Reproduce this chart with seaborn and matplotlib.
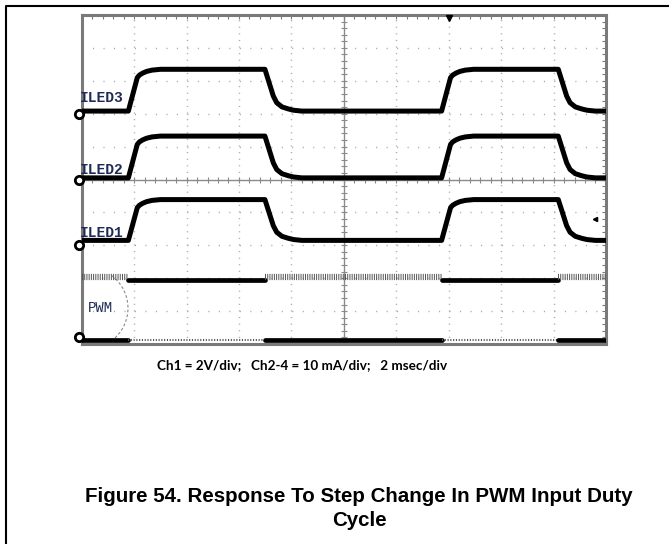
import matplotlib
matplotlib.use("Agg")
import matplotlib.pyplot as plt
from matplotlib.lines import Line2D
from matplotlib.patches import Arc
import numpy as np
import seaborn as sns

# Scope capture: x = time (ms, 2 ms/div), y = screen divisions (0..10)
time_ms = [0.0, 1.78, 2.12, 2.20, 2.33, 2.48, 2.68, 3.00, 6.99, 7.31, 7.44, 7.64, 7.89, 8.09, 8.40,
           13.73, 14.07, 14.15, 14.28, 14.43, 14.63, 14.95, 18.18, 18.50, 18.63, 18.83, 19.08, 19.28, 19.60, 20.0]
# normalized LED current shape (0 = off, 1 = on)
led_shape = [0, 0, 0.80, 0.86, 0.91, 0.95, 0.98, 1, 1, 0.36, 0.20, 0.10, 0.05, 0.02, 0,
             0, 0.80, 0.86, 0.91, 0.95, 0.98, 1, 1, 0.36, 0.20, 0.10, 0.05, 0.02, 0, 0]

led_names = ["ILED3", "ILED2", "ILED1"]
led_low = [7.08, 5.05, 3.15]
led_high = [8.35, 6.32, 4.39]
led_label_y = [7.48, 5.30, 3.36]
ground_marks = [7.0, 5.0, 3.0, 0.2]

# PWM input: high-frequency PWM, duty swaps between low and high
pwm_start = [0.0, 1.78, 6.99, 13.73, 18.18]
pwm_end = [1.78, 6.99, 13.73, 18.18, 20.0]
pwm_duty = ["low", "high", "low", "high", "low"]
pwm_top = 2.0
pwm_bottom = 0.12

trigger_time = 14.0
trigger_level = 3.79

caption = "Ch1 = 2V/div;   Ch2-4 = 10 mA/div;   2 msec/div"
title_l1 = "Figure 54. Response To Step Change In PWM Input Duty"
title_l2 = "Cycle"

sns.set_style("white")
plt.rcParams["font.family"] = ["DejaVu Sans"]
plt.rcParams["lines.scale_dashes"] = False

fig = plt.figure(figsize=(6.69, 5.44), dpi=100)
ax = fig.add_axes([0.1221, 0.3676, 0.7837, 0.6048])
ax.set_xlim(0, 20)
ax.set_ylim(0, 10)

# dotted graticule
for gx in np.arange(2, 20, 2):
    if gx != 10:
        ax.axvline(gx, color="#a8a8a8", lw=1.0, ls=(0, (0.8, 3.95)), zorder=0)
for gy in np.arange(1, 10, 1):
    if gy != 5:
        ax.axhline(gy, color="#a8a8a8", lw=1.0, ls=(0, (0.8, 6.75)), zorder=0)
# centre crosshair with minor ticks
ax.axvline(10, color="#8a8a8a", lw=1.0, zorder=0)
ax.axhline(5, color="#8a8a8a", lw=1.0, zorder=0)
ax.plot(np.full(51, 10.0), np.linspace(0, 10, 51), ls="none", marker="_",
        ms=4, color="#8a8a8a", mew=0.8, zorder=0)
ax.plot(np.linspace(0, 20, 51), np.full(51, 5.0), ls="none", marker="|",
        ms=4, color="#8a8a8a", mew=0.8, zorder=0)

# LED current traces
for name, lo, hi, ly in zip(led_names, led_low, led_high, led_label_y):
    vals = [lo + f * (hi - lo) for f in led_shape]
    sns.lineplot(x=time_ms, y=vals, ax=ax, color="black", lw=3.6,
                 sort=False, estimator=None, zorder=3)
    ax.text(-0.05, ly, name, fontfamily="Liberation Mono", fontweight="bold",
            fontsize=10.5, color="#1e2b55", ha="left", va="center", zorder=4)

# PWM trace
for s, e, d in zip(pwm_start, pwm_end, pwm_duty):
    if d == "high":
        sns.lineplot(x=[s, e], y=[pwm_top - 0.05, pwm_top - 0.05], ax=ax,
                     color="black", lw=3.4, zorder=3)
        sns.lineplot(x=[s, e], y=[pwm_bottom, pwm_bottom], ax=ax,
                     color="#555555", lw=1.5, ls=(0, (0.8, 1.2)), zorder=3)
    else:
        sns.lineplot(x=[s, e], y=[pwm_top + 0.03, pwm_top + 0.03], ax=ax,
                     color="#555555", lw=4.5, ls=(0, (0.7, 0.9)), zorder=3)
        sns.lineplot(x=[s, e], y=[pwm_bottom, pwm_bottom], ax=ax,
                     color="black", lw=3.4, zorder=3)
ax.text(0.25, 1.1, "PWM", fontfamily="Liberation Mono", fontsize=10,
        color="#1e2b55", ha="left", va="center", zorder=4)
ax.add_patch(Arc((0.2, 1.09), 3.13, 2.48, theta1=-47, theta2=47,
                 color="#8a8a8a", lw=0.8, ls=(0, (2, 1.5)), zorder=2))

# channel ground markers, trigger markers
ax.plot(np.full(len(ground_marks), -0.1), ground_marks, ls="none", marker="o",
        ms=6, mfc="white", mec="black", mew=2.0, clip_on=False, zorder=5)
ax.plot([trigger_time], [9.9], marker="v", color="black", ms=5,
        clip_on=False, zorder=5)
ax.plot([19.6], [trigger_level], marker="<", color="black", ms=3, zorder=5)

# frame with ticks
ax.set_xticks(np.arange(0, 21, 2))
ax.set_xticks(np.arange(0, 20.01, 0.4), minor=True)
ax.set_yticks(np.arange(0, 11, 1))
ax.set_yticks(np.arange(0, 10.01, 0.2), minor=True)
ax.tick_params(which="both", direction="in", length=3, width=0.8,
               color="#7a7a7a", top=True, right=True,
               labelbottom=False, labelleft=False)
for sp in ax.spines.values():
    sp.set_color("#7a7a7a")
    sp.set_linewidth(2.2)
ax.set_xlabel("")
ax.set_ylabel("")

# page border
fig.add_artist(Line2D([0.009, 0.009, 1.0], [0.0, 0.989, 0.989],
                      transform=fig.transFigure, color="black", lw=1.5))

fig.text(302 / 669, 1 - 365 / 544, caption, fontfamily="Lato",
         fontweight="bold", fontsize=9.7, color="black",
         ha="center", va="center")
fig.text(359 / 669, 1 - 496 / 544, title_l1, fontfamily="Liberation Sans",
         fontweight="bold", fontsize=14.8, color="black",
         ha="center", va="center")
fig.text(359 / 669, 1 - 520 / 544, title_l2, fontfamily="Liberation Sans",
         fontweight="bold", fontsize=14.8, color="black",
         ha="center", va="center")

fig.savefig("out.png", dpi=100)
